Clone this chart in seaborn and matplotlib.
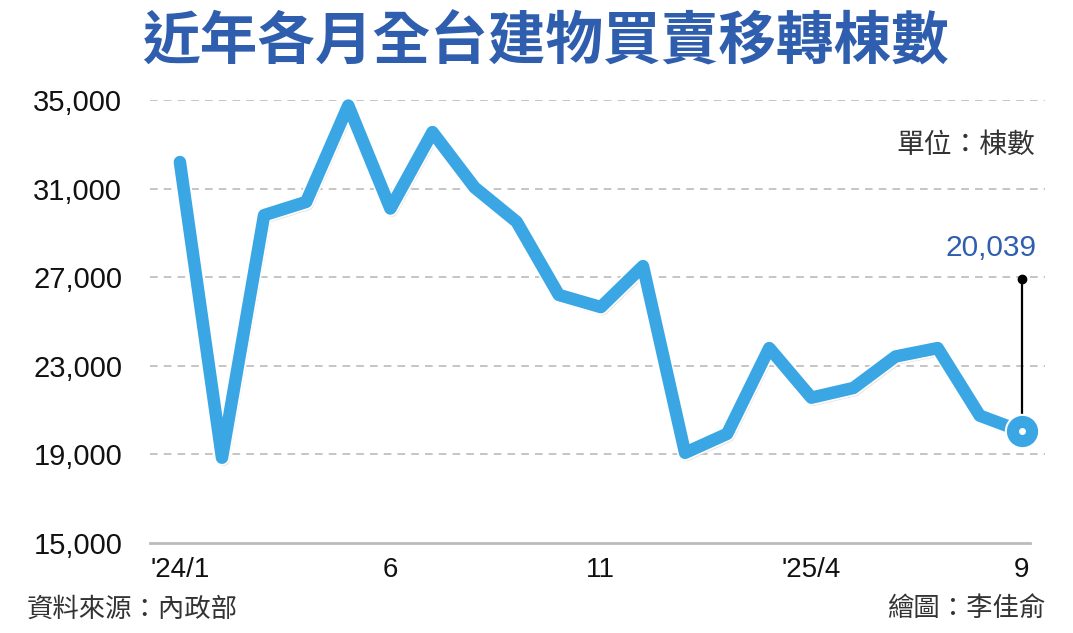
import matplotlib
matplotlib.use("Agg")
import matplotlib.pyplot as plt
import matplotlib.patheffects as pe
import seaborn as sns
import pandas as pd

# ---- data ----
months = list(range(21))  # 2024/1 .. 2025/9
values = [32200, 18850, 29800, 30400, 34750, 30100, 33550, 31050, 29500, 26200,
          25650, 27500, 19070, 19930, 23800, 21560, 22000, 23420, 23800, 20750, 20039]
tick_pos = [0, 5, 10, 15, 20]
tick_labels = ["'24/1", "6", "11", "'25/4", "9"]
y_ticks = [15000, 19000, 23000, 27000, 31000, 35000]
title = "近年各月全台建物買賣移轉棟數"
unit = "單位：棟數"
source = "資料來源：內政部"
credit = "繪圖：李佳俞"
last_label = "20,039"

df = pd.DataFrame({"month": months, "value": values})

sns.set_theme(style="white")
plt.rcParams['font.family'] = ['Liberation Sans', 'Noto Sans CJK TC', 'DejaVu Sans']

fig = plt.figure(figsize=(10.73, 6.33), dpi=100)
fig.patch.set_facecolor("white")
ax = fig.add_axes([150/1073, 1-543/633, (1045-150)/1073, (543-100)/633])
ax.set_facecolor("white")

line_color = "#3aa7e4"
sns.lineplot(data=df, x="month", y="value", ax=ax, color=line_color, linewidth=9,
             solid_joinstyle="round", solid_capstyle="round", clip_on=False, zorder=3,
             path_effects=[pe.SimpleLineShadow(offset=(1, -1.5), shadow_color="#c9b9ae", alpha=0.5),
                           pe.Stroke(linewidth=11.5, foreground="white"), pe.Normal()])

# end marker
ax.plot([months[-1]], [values[-1]], marker="o", markersize=24, color=line_color,
        markeredgecolor="white", markeredgewidth=1.5, zorder=6, clip_on=False)
ax.plot([months[-1]], [values[-1]], marker="o", markersize=5, color="white",
        markeredgewidth=0, zorder=7, clip_on=False)

# annotation leader
top_y = 26900
ax.plot([months[-1], months[-1]], [values[-1], top_y], color="black", linewidth=1.6, zorder=5)
ax.plot([months[-1]], [top_y], marker="o", markersize=6, color="black", zorder=5)
ax.text(months[-1] + 0.35, 27700, last_label, color="#2f5eae", fontsize=21.5,
        ha="right", va="bottom")

ax.set_xlim(-0.71, 20.55)
ax.set_ylim(15000, 35000)
ax.set_yticks(y_ticks)
ax.set_yticklabels([f"{v:,}" for v in y_ticks], fontsize=21, color="#111111")
ax.set_xticks(tick_pos)
ax.set_xticklabels(tick_labels, fontsize=20, color="#111111")
ax.tick_params(axis="y", length=0, pad=20)
ax.tick_params(axis="x", length=6, width=1.2, color="#bbbbbb", direction="out", pad=4)
ax.set_xlabel("")
ax.set_ylabel("")

for yv in y_ticks[1:]:
    ax.axhline(yv, color="#b5b5b5", linewidth=1.1, linestyle=(0, (5, 4)), zorder=1)

for s in ["top", "right", "left"]:
    ax.spines[s].set_visible(False)
ax.spines["bottom"].set_color("#bbbbbb")
ax.spines["bottom"].set_linewidth(2)
ax.spines["bottom"].set_bounds(-0.71, 20.2)

fig.text(545/1073, 1-43/633, title, fontsize=41.5, fontweight="bold", color="#2f5eae",
         ha="center", va="center", family=["Noto Sans CJK TC", "DejaVu Sans"])
fig.text(1035/1073, 1-145/633, unit, fontsize=20, color="#333333", ha="right", va="center",
         family=["Noto Sans CJK TC", "DejaVu Sans"])
fig.text(27/1073, 1-609/633, source, fontsize=19, color="#333333", ha="left", va="center",
         family=["Noto Sans CJK TC", "DejaVu Sans"])
fig.text(1045/1073, 1-609/633, credit, fontsize=19, color="#333333", ha="right", va="center",
         family=["Noto Sans CJK TC", "DejaVu Sans"])

fig.savefig("out.png", dpi=100, facecolor="white")
